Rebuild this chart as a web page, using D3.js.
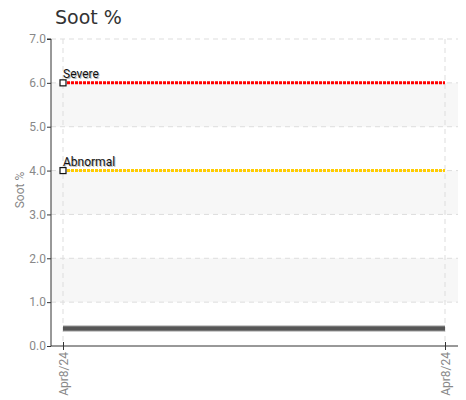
<!DOCTYPE html>
<html>
<head>
<meta charset="utf-8">
<script src="https://cdn.jsdelivr.net/npm/d3@7"></script>
<style>
  body { margin: 0; background: #fff; }
  .tick text { fill: #888; font-family: "Roboto", sans-serif; font-size: 12px; }
</style>
</head>
<body>
<svg id="chart" width="466" height="400"></svg>
<script>
// data
var sampleDates = ["Apr8/24 a", "Apr8/24 b"];
var dateLabels = ["Apr8/24", "Apr8/24"];
var sootValues = [0.4, 0.4];
var limitNames = ["Severe", "Abnormal"];
var limitValues = [6.0, 4.0];
var limitColors = ["#ff0000", "#ffcc00"];
var yTicks = [0, 1, 2, 3, 4, 5, 6, 7];

var svg = d3.select("#chart");
var margin = { left: 51, right: 8, top: 39, bottom: 54 };
var width = 466 - margin.left - margin.right;
var height = 400 - margin.top - margin.bottom;

svg.append("text")
  .attr("x", 55).attr("y", 24)
  .attr("font-family", "DejaVu Sans, Verdana, sans-serif")
  .attr("font-size", 19)
  .attr("fill", "#333")
  .text("Soot %");

var g = svg.append("g").attr("transform", "translate(" + margin.left + "," + margin.top + ")");

var x = d3.scalePoint().domain(sampleDates).range([12, width - 13]);
var y = d3.scaleLinear().domain([0, 7]).range([height, 0]);

// alternating bands
g.selectAll("rect.band").data([1, 3, 5]).enter().append("rect")
  .attr("x", 0).attr("width", width)
  .attr("y", function (d) { return y(d + 1); })
  .attr("height", function (d) { return y(d) - y(d + 1); })
  .attr("fill", "#f7f7f7");

// grid
g.selectAll("line.hgrid").data(yTicks.slice(1)).enter().append("line")
  .attr("x1", 0).attr("x2", width)
  .attr("y1", function (d) { return y(d); }).attr("y2", function (d) { return y(d); })
  .attr("stroke", "#ddd").attr("stroke-dasharray", "5,4");
g.selectAll("line.vgrid").data(sampleDates).enter().append("line")
  .attr("x1", function (d) { return x(d); }).attr("x2", function (d) { return x(d); })
  .attr("y1", 0).attr("y2", height)
  .attr("stroke", "#ddd").attr("stroke-dasharray", "5,4");

// y axis
var yAxisG = g.append("g").call(d3.axisLeft(y).tickValues(yTicks).tickFormat(d3.format(".1f")).tickSize(4));
yAxisG.select(".domain").attr("stroke", "#333").attr("d", "M0," + height + "V0h-4");
yAxisG.selectAll(".tick line").attr("stroke", "#333");
yAxisG.selectAll(".tick text").attr("x", -5);

// x axis
var xAxisG = g.append("g").attr("transform", "translate(0," + height + ")")
  .call(d3.axisBottom(x).tickSize(4).tickFormat(function (d, i) { return dateLabels[i]; }));
xAxisG.select(".domain").attr("stroke", "#333").attr("d", "M0,0H" + width);
xAxisG.selectAll(".tick line").attr("stroke", "#333").attr("y1", -4).attr("y2", 4);
xAxisG.selectAll(".tick text")
  .attr("transform", "rotate(-90)")
  .attr("x", -6).attr("y", 0).attr("dy", "0.35em")
  .style("text-anchor", "end");

// y axis title
svg.append("text")
  .attr("transform", "translate(24,190) rotate(-90)")
  .attr("text-anchor", "middle")
  .attr("font-family", "Roboto, sans-serif")
  .attr("font-size", 12)
  .attr("fill", "#888")
  .text("Soot %");

// limit lines
var line = d3.line().x(function (d) { return x(d[0]); }).y(function (d) { return y(d[1]); });
limitValues.forEach(function (v, i) {
  var pts = sampleDates.map(function (d) { return [d, v]; });
  g.append("path").attr("d", line(pts))
    .attr("fill", "none").attr("stroke", limitColors[i])
    .attr("stroke-width", 3).attr("stroke-dasharray", "3,1");
  g.append("rect")
    .attr("x", x(sampleDates[0]) - 3).attr("y", y(v) - 3)
    .attr("width", 6).attr("height", 6)
    .attr("fill", "#fff").attr("stroke", "#111").attr("stroke-width", 1.2);
  [["#bbb", 1], ["#111", 0]].forEach(function (s) {
    g.append("text")
      .attr("x", x(sampleDates[0]) + s[1]).attr("y", y(v) - 5 + s[1])
      .attr("font-family", "Roboto, sans-serif")
      .attr("font-size", 12)
      .attr("fill", s[0])
      .text(limitNames[i]);
  });
});

// soot series
var sootPts = sampleDates.map(function (d, i) { return [d, sootValues[i]]; });
g.append("path").attr("d", line(sootPts))
  .attr("fill", "none").attr("stroke", "#999").attr("stroke-width", 6);
g.append("path").attr("d", line(sootPts))
  .attr("fill", "none").attr("stroke", "#555").attr("stroke-width", 4);
</script>
</body>
</html>
